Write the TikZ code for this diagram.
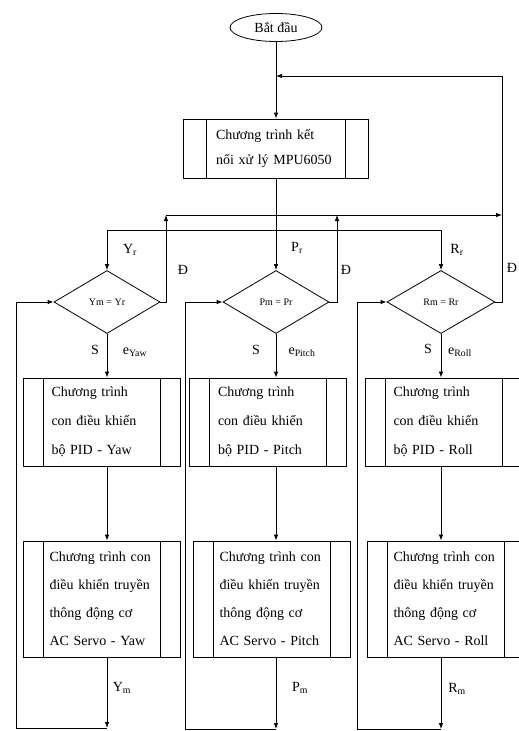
\documentclass[tikz,border=0pt]{standalone}
\usepackage{fontspec}
\setmainfont{Liberation Serif}
\usetikzlibrary{shapes.geometric,arrows.meta}
\tikzset{
  flow/.style={-{Latex[length=6pt,width=4.5pt]}},
  subprog/.style={draw, rectangle, inner sep=0pt, minimum width=157pt, minimum height=88pt,
    text width=100pt, align=left, font=\fontsize{14}{29}\selectfont,
    path picture={
      \draw ([xshift=#1]path picture bounding box.north west) -- ([xshift=#1]path picture bounding box.south west);
      \draw ([xshift=-#1]path picture bounding box.north east) -- ([xshift=-#1]path picture bounding box.south east);
    }},
  subprog/.default=20pt,
  servo/.style={subprog, minimum height=116pt, text width=104pt, font=\fontsize{14}{28}\selectfont},
  check/.style={draw, diamond, aspect=1.7, inner sep=0pt, minimum width=106pt, minimum height=63pt,
    font=\fontsize{10}{12}\selectfont},
  lbl/.style={inner sep=0pt, font=\fontsize{14}{16}\selectfont},
}
\begin{document}
\begin{tikzpicture}[x=1pt, y=-1pt, line width=0.8pt]
  \useasboundingbox (0,0) rectangle (519,731);
  \node[draw, ellipse, minimum width=92pt, minimum height=28pt, inner sep=0pt,
    font=\fontsize{14}{16}\selectfont] (start) at (276,27.5) {Bắt đầu};
  \node[subprog=23pt, minimum width=185pt, minimum height=59pt, text width=120pt,
    font=\fontsize{14}{25}\selectfont] (mpu) at (276,148.5) {Chương trình kết\\nối xử lý MPU6050};
  \node[check] (dY) at (107,302) {Ym = Yr};
  \node[check] (dP) at (276,302) {Pm = Pr};
  \node[check, minimum width=108pt] (dR) at (441,302) {Rm = Rr};
  \node[subprog] (pY) at (101.5,422) {Chương trình\\con điều khiển\\bộ PID - Yaw};
  \node[subprog] (pP) at (268,422) {Chương trình\\con điều khiển\\bộ PID - Pitch};
  \node[subprog] (pR) at (443.5,422) {Chương trình\\con điều khiển\\bộ PID - Roll};
  \node[servo] (sY) at (101.5,599) {Chương trình con\\điều khiển truyền\\thông động cơ\\AC Servo - Yaw};
  \node[servo] (sP) at (271.5,599) {Chương trình con\\điều khiển truyền\\thông động cơ\\AC Servo - Pitch};
  \node[servo] (sR) at (445.5,599) {Chương trình con\\điều khiển truyền\\thông động cơ\\AC Servo - Roll};
  \node[lbl] (lYr) at (130,250) {Y\textsubscript{r}};
  \node[lbl] (lPr) at (297,248) {P\textsubscript{r}};
  \node[lbl] (lRr) at (457,250) {R\textsubscript{r}};
  \node[lbl] (lDY) at (183,270) {Đ};
  \node[lbl] (lDP) at (346,270) {Đ};
  \node[lbl] (lDR) at (512,268) {Đ};
  \node[lbl] (lSY) at (95,350) {S};
  \node[lbl] (lSP) at (256,350) {S};
  \node[lbl] (lSR) at (428,349) {S};
  \node[lbl] (leY) at (135,352) {e\textsubscript{Yaw}};
  \node[lbl] (leP) at (302,352) {e\textsubscript{Pitch}};
  \node[lbl] (leR) at (460,352) {e\textsubscript{Roll}};
  \node[lbl] (lYm) at (122,688) {Y\textsubscript{m}};
  \node[lbl] (lPm) at (300,688) {P\textsubscript{m}};
  \node[lbl] (lRm) at (457,689) {R\textsubscript{m}};
  \coordinate (top) at (276,76);
  \coordinate (ret) at (502,76);
  \coordinate (split) at (276,230);
  \coordinate (busY) at (166,215);
  \coordinate (busP) at (337,215);
  \coordinate (busR) at (502,215);
  \coordinate (bY) at (107,728);
  \coordinate (cY) at (16,728);
  \coordinate (bP) at (276,729);
  \coordinate (cP) at (185,729);
  \coordinate (bR) at (441,729);
  \coordinate (cR) at (357,729);
  \begin{scope}[flow]
    \draw (start.south) -- (mpu.north);
    \draw (mpu.south) -- (dP.north);
    \draw (split) -| (dY.north);
    \draw (split) -| (dR.north);
    \draw (dY.east) -| (busY);
    \draw (dP.east) -| (busP);
    \draw (busY) -- (busR);
    \draw (dR.east) -| (ret) -- (top);
    \draw (dY.south) -- (dY.south |- pY.north);
    \draw (dP.south) -- (dP.south |- pP.north);
    \draw (dR.south) -- (dR.south |- pR.north);
    \draw (pY.south -| dY.south) -- (sY.north -| dY.south);
    \draw (pP.south -| dP.south) -- (sP.north -| dP.south);
    \draw (pR.south -| dR.south) -- (sR.north -| dR.south);
    \draw (sY.south -| bY) -- (bY);
    \draw (sP.south -| bP) -- (bP);
    \draw (sR.south -| bR) -- (bR);
    \draw (bY) -- (cY) |- (dY.west);
    \draw (bP) -- (cP) |- (dP.west);
    \draw (bR) -- (cR) |- (dR.west);
  \end{scope}
\end{tikzpicture}
\end{document}
